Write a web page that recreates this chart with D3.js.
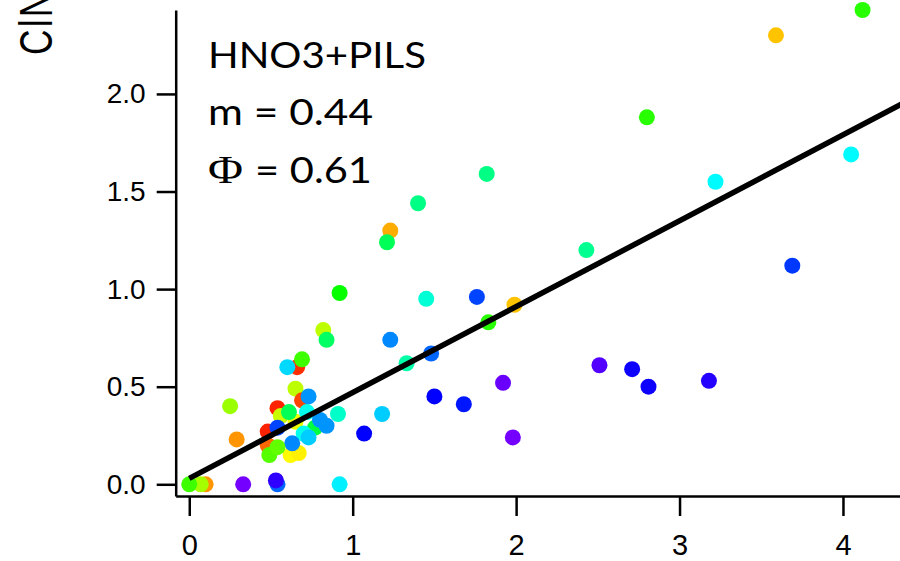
<!DOCTYPE html>
<html>
<head>
<meta charset="utf-8">
<script src="https://cdn.jsdelivr.net/npm/d3@7"></script>
<style>
  html, body { margin: 0; padding: 0; background: #fff; }
  svg { display: block; }
</style>
</head>
<body>
<svg id="chart" width="900" height="561"></svg>
<script>
// Observed HNO3 (x) vs ClNO2 (y); colour encodes a third normalised variable.
const xVals = [4.12, 3.59, 2.80, 4.05, 3.22, 2.43, 3.69, 2.51, 2.71, 2.81, 3.18,
  1.82, 1.40, 1.23, 1.21, 1.45, 1.76, 1.99, 1.83, 1.23, 1.48, 1.33, 1.92, 1.50,
  1.68, 1.18, 1.98, 1.07, 0.92, 0.82, 0.84, 0.91, 0.92,
  0.66, 0.60, 0.69, 0.65, 0.69, 0.73, 0.25, 0.29, 0.54, 0.56, 0.65, 0.61, 0.72,
  0.77, 0.80, 0.84, 0.48, 0.48, 0.54, 0.70, 0.73, 0.62, 0.67, 0.63, 0.49, 0.54,
  0.10, 0.07, 0.00, 0.33, 0.54, 0.53];
const yVals = [2.43, 2.30, 1.88, 1.69, 1.55, 1.20, 1.12, 0.61, 0.59, 0.50, 0.53,
  1.59, 1.44, 1.30, 1.24, 0.95, 0.96, 0.92, 0.83, 0.74, 0.67, 0.62, 0.52, 0.45,
  0.41, 0.36, 0.24, 0.26, 0.98, 0.79, 0.74, 0.36, 0.00,
  0.60, 0.60, 0.64, 0.49, 0.43, 0.45, 0.40, 0.23, 0.39, 0.35, 0.32, 0.37, 0.37,
  0.29, 0.33, 0.30, 0.27, 0.20, 0.29, 0.26, 0.24, 0.15, 0.16, 0.21, 0.15, 0.19,
  0.00, 0.00, 0.00, 0.00, 0.00, 0.02];
const zVals = [0.41, 0.17, 0.41, 0.67, 0.67, 0.57, 0.84, 0.96, 0.90, 0.90, 0.92,
  0.56, 0.56, 0.15, 0.52, 0.63, 0.83, 0.17, 0.41, 0.77, 0.80, 0.59, 0.98, 0.89,
  0.87, 0.71, 0.99, 0.89, 0.44, 0.28, 0.53, 0.62, 0.68,
  0.04, 0.70, 0.39, 0.28, 0.06, 0.76, 0.31, 0.13, 0.03, 0.27, 0.24, 0.52, 0.65,
  0.50, 0.76, 0.76, 0.03, 0.09, 0.83, 0.65, 0.71, 0.22, 0.21, 0.77, 0.37, 0.36,
  0.13, 0.30, 0.39, 0.99, 0.80, 0.93];

const xTicks = [0, 1, 2, 3, 4];
const yTicks = [0, 0.5, 1.0, 1.5, 2.0];

// Linear fit shown in the annotation
const fitSlope = 0.44;
const fitIntercept = 0.03;
const fitRange = [0, 4.4];

const annoTitle = "HNO3+PILS";
const annoSlope = "m = 0.44";
const annoPhi = "= 0.61";
const yLabel = "ClNO2";

const points = xVals.map((x, i) => ({ x, y: yVals[i], z: zVals[i] }));

const svg = d3.select("#chart");

const x = d3.scaleLinear().domain([-0.083, 4.349]).range([175.7, 900]);
const y = d3.scaleLinear().domain([-0.06, 2.43]).range([496, 10]);
// Rainbow colour map: red (low) through violet (high)
const color = d3.scaleLinear().domain([0, 1]).range([0, 270]);
const fill = z => d3.hsl(color(z), 1, 0.5).formatHex();

// Points
svg.append("g")
  .selectAll("circle")
  .data(points)
  .join("circle")
  .attr("cx", d => x(d.x))
  .attr("cy", d => y(d.y))
  .attr("r", 8)
  .attr("fill", d => fill(d.z));

// Fit line
const fitData = fitRange.map(v => ({ x: v, y: fitIntercept + fitSlope * v }));
svg.append("path")
  .datum(fitData)
  .attr("d", d3.line().x(d => x(d.x)).y(d => y(d.y)))
  .attr("fill", "none")
  .attr("stroke", "#000")
  .attr("stroke-width", 5.5);

const tickFont = "'Liberation Sans', Arial, sans-serif";

// Axes
const yAxis = d3.axisLeft(y)
  .tickValues(yTicks)
  .tickFormat(d3.format(".1f"))
  .tickSize(19)
  .tickSizeOuter(0)
  .tickPadding(11);
const gy = svg.append("g")
  .attr("transform", `translate(${x.range()[0]},0)`)
  .call(yAxis);
gy.selectAll("path, line").attr("stroke", "#000").attr("stroke-width", 2.5);
gy.selectAll("text")
  .attr("font-family", tickFont)
  .attr("font-size", 28)
  .attr("fill", "#000");

const xAxis = d3.axisBottom(x)
  .tickValues(xTicks)
  .tickFormat(d3.format("d"))
  .tickSize(20)
  .tickSizeOuter(0);
const gx = svg.append("g")
  .attr("transform", `translate(0,${y.range()[0]})`)
  .call(xAxis);
gx.selectAll("path, line").attr("stroke", "#000").attr("stroke-width", 2.5);
gx.selectAll("text")
  .attr("font-family", tickFont)
  .attr("font-size", 29)
  .attr("fill", "#000")
  .attr("y", 59)
  .attr("dy", null);

// Y axis title (runs off the top edge)
svg.append("text")
  .attr("transform", "translate(52,55) rotate(-90) scale(0.75,1)")
  .attr("font-family", tickFont)
  .attr("font-size", 47)
  .attr("letter-spacing", 3)
  .attr("fill", "#000")
  .text(yLabel);

// Annotation
const annoFont = "Lato, 'Open Sans', sans-serif";
svg.append("text")
  .attr("x", 208).attr("y", 68)
  .attr("font-family", annoFont).attr("font-size", 37)
  .attr("textLength", 218).attr("lengthAdjust", "spacingAndGlyphs")
  .text(annoTitle);
svg.append("text")
  .attr("x", 208).attr("y", 125)
  .attr("font-family", annoFont).attr("font-size", 37)
  .attr("textLength", 165).attr("lengthAdjust", "spacingAndGlyphs")
  .text(annoSlope);
svg.append("text")
  .attr("x", 208).attr("y", 183)
  .attr("font-family", "'Liberation Serif', 'Times New Roman', serif")
  .attr("font-size", 41)
  .attr("textLength", 35).attr("lengthAdjust", "spacingAndGlyphs")
  .text("\u03A6");
svg.append("text")
  .attr("x", 255).attr("y", 183)
  .attr("font-family", annoFont).attr("font-size", 37)
  .attr("textLength", 117).attr("lengthAdjust", "spacingAndGlyphs")
  .text(annoPhi);
</script>
</body>
</html>
